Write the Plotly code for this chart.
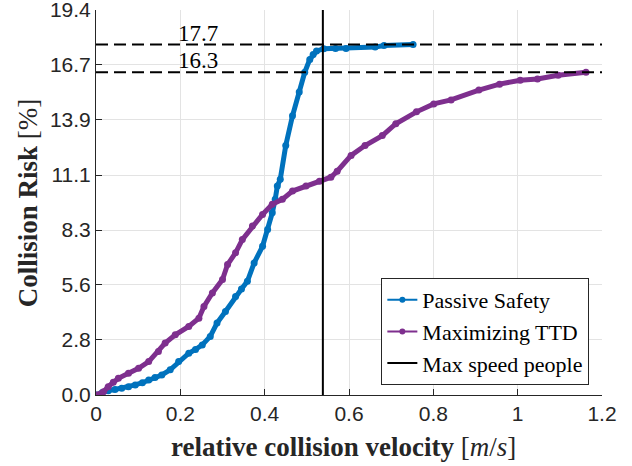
import plotly.graph_objects as go

# ---------------- data ----------------
passive_x = [0, 0.015, 0.029, 0.045, 0.061, 0.077, 0.093, 0.11, 0.125, 0.14, 0.156,
             0.176, 0.196, 0.22, 0.236, 0.252, 0.271, 0.287, 0.307, 0.331, 0.345,
             0.359, 0.375, 0.395, 0.407, 0.418, 0.425, 0.430, 0.437, 0.450, 0.466,
             0.482, 0.495, 0.507, 0.515, 0.523, 0.540, 0.568, 0.593, 0.662, 0.683, 0.752]
passive_y = [0, 0.12, 0.22, 0.28, 0.34, 0.42, 0.51, 0.62, 0.76, 0.88, 1.01,
             1.27, 1.69, 2.11, 2.30, 2.53, 2.96, 3.63, 4.22, 4.98, 5.35,
             5.74, 6.67, 7.51, 8.36, 9.20, 9.88, 10.55, 10.9, 12.6, 14.1,
             15.3, 16.3, 16.95, 17.2, 17.37, 17.49, 17.5, 17.5, 17.57, 17.65, 17.7]

ttd_x = [0, 0.018, 0.029, 0.041, 0.053, 0.077, 0.101, 0.125, 0.148, 0.164, 0.188,
         0.22, 0.244, 0.256, 0.276, 0.300, 0.312, 0.331, 0.347, 0.371, 0.395,
         0.418, 0.442, 0.466, 0.498, 0.530, 0.557, 0.572, 0.605, 0.638, 0.679,
         0.711, 0.760, 0.801, 0.842, 0.908, 0.957, 1.006, 1.047, 1.096, 1.162]
ttd_y = [0, 0.17, 0.42, 0.65, 0.84, 1.10, 1.35, 1.69, 2.20, 2.62, 3.04,
         3.46, 3.88, 4.47, 5.15, 5.83, 6.59, 7.18, 7.85, 8.53, 9.12,
         9.63, 9.88, 10.3, 10.55, 10.8, 11.0, 11.3, 12.1, 12.6, 13.1,
         13.7, 14.3, 14.7, 14.9, 15.4, 15.7, 15.9, 15.96, 16.15, 16.3]

max_speed_people = 0.538
final_values = [17.7, 16.3]
final_labels = ["17.7", "16.3"]

x_ticks = [0, 0.2, 0.4, 0.6, 0.8, 1.0, 1.2]
x_ticklabels = ["0", "0.2", "0.4", "0.6", "0.8", "1", "1.2"]
y_ticks = [0, 2.778, 5.556, 8.333, 11.111, 13.889, 16.667, 19.44]
y_ticklabels = ["0.0", "2.8", "5.6", "8.3", "11.1", "13.9", "16.7", "19.4"]
y_max = 19.444

series_names = ["Passive Safety", "Maximizing TTD", "Max speed people"]
BLUE = "#0072BD"
PURPLE = "#7E2F8E"
BLACK = "#000000"
SERIF = "Liberation Serif, Times New Roman, serif"
SANS = "Liberation Sans, Arial, sans-serif"

fig = go.Figure()

# main curves (legend handled by thin dummy entries below)
fig.add_trace(go.Scatter(x=passive_x, y=passive_y, mode="lines+markers",
                         line=dict(color=BLUE, width=5), marker=dict(color=BLUE, size=7),
                         showlegend=False, hoverinfo="skip"))
fig.add_trace(go.Scatter(x=ttd_x, y=ttd_y, mode="lines+markers",
                         line=dict(color=PURPLE, width=5), marker=dict(color=PURPLE, size=7),
                         showlegend=False, hoverinfo="skip"))

# dashed horizontal lines at the final values
for v in final_values:
    fig.add_trace(go.Scatter(x=[x_ticks[0], x_ticks[-1]], y=[v, v], mode="lines",
                             line=dict(color=BLACK, width=2, dash="12px,6px"),
                             showlegend=False, hoverinfo="skip"))

# vertical line
fig.add_trace(go.Scatter(x=[max_speed_people, max_speed_people], y=[0, y_max],
                         mode="lines", line=dict(color=BLACK, width=2),
                         showlegend=False, hoverinfo="skip"))

# legend entries
fig.add_trace(go.Scatter(x=[None], y=[None], mode="lines+markers", name=series_names[0],
                         line=dict(color=BLUE, width=2), marker=dict(color=BLUE, size=6)))
fig.add_trace(go.Scatter(x=[None], y=[None], mode="lines+markers", name=series_names[1],
                         line=dict(color=PURPLE, width=2), marker=dict(color=PURPLE, size=6)))
fig.add_trace(go.Scatter(x=[None], y=[None], mode="lines", name=series_names[2],
                         line=dict(color=BLACK, width=2)))

for v, lab in zip(final_values, final_labels):
    fig.add_annotation(x=0.2, y=v, xref="x", yref="y", text=lab, showarrow=False,
                       xanchor="left", yanchor="bottom", xshift=-4, yshift=-3,
                       font=dict(family=SERIF, size=23, color=BLACK))

# axis titles
fig.add_annotation(x=0.49, y=-0.135, xref="paper", yref="paper",
                   text="<b>relative collision velocity</b> [<i>m</i>/<i>s</i>]",
                   showarrow=False, xanchor="center", yanchor="middle",
                   font=dict(family=SERIF, size=27, color="#262626"))
fig.add_annotation(x=-0.135, y=0.5, xref="paper", yref="paper",
                   text="<b>Collision Risk</b> [%]", textangle=-90,
                   showarrow=False, xanchor="center", yanchor="middle",
                   font=dict(family=SERIF, size=27, color="#262626"))

axis_common = dict(showline=True, linecolor="#262626", linewidth=1,
                   ticks="inside", ticklen=6, tickcolor="#262626",
                   showgrid=True, gridcolor="#e3e3e3", gridwidth=1,
                   zeroline=False, mirror=False, automargin=False,
                   ticklabeloverflow="allow",
                   tickfont=dict(family=SANS, size=21, color="#262626"))

fig.update_xaxes(range=[0, 1.2], tickmode="array", tickvals=x_ticks, ticktext=x_ticklabels,
                 **axis_common)
fig.update_yaxes(range=[0, y_max], tickmode="array", tickvals=y_ticks,
                 ticktext=y_ticklabels, **axis_common)

fig.update_layout(
    width=632, height=466,
    margin=dict(l=96, r=30, t=10, b=71, autoexpand=False),
    plot_bgcolor="white", paper_bgcolor="white",
    legend=dict(x=0.975, y=0.026, xanchor="right", yanchor="bottom",
                bgcolor="white", bordercolor="#262626", borderwidth=1,
                font=dict(family=SERIF, size=22, color=BLACK),
                tracegroupgap=0, itemwidth=30),
)

fig.write_html("out.html", config={"displayModeBar": False},
               post_script="document.body.style.margin='0';")
